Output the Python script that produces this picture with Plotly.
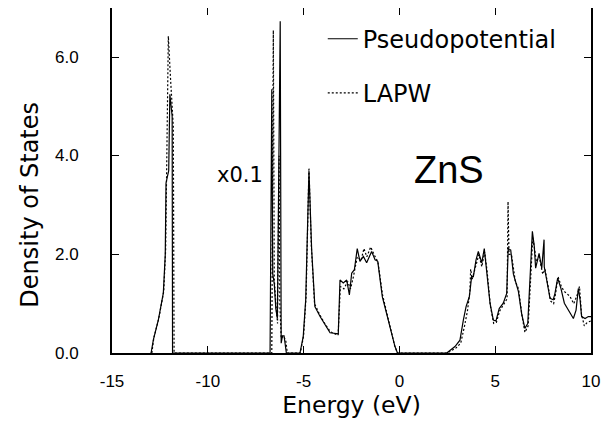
import plotly.graph_objects as go

# ---- data ----
pp_energy = [-13.0, -12.96, -12.84, -12.58, -12.32, -12.22, -12.18, -12.10, -12.04, -11.98, -11.90, -11.86, -11.84,
             -6.75, -6.66, -6.61, -6.53, -6.45, -6.37, -6.30, -6.22, -6.17, -6.10, -6.02, -5.95, -5.90,
             -5.19, -5.02, -4.89, -4.79, -4.72, -4.58, -4.41, -4.14, -3.88, -3.62, -3.19, -3.10, -2.93, -2.75,
             -2.61, -2.49, -2.35, -2.20, -2.06, -1.88, -1.71, -1.45, -1.27, -1.13, -0.89, -0.58, -0.23, -0.10,
             2.47, 2.90, 3.16, 3.34, 3.48, 3.65, 3.77, 3.86, 4.00, 4.12, 4.30, 4.43, 4.56, 4.73, 4.90, 5.04,
             5.21, 5.42, 5.60, 5.68, 5.81, 5.95, 6.10, 6.21, 6.38, 6.55, 6.70, 6.82, 6.94, 7.04, 7.11, 7.29,
             7.43, 7.55, 7.56, 7.69, 7.86, 8.03, 8.12, 8.26, 8.43, 8.61, 8.85, 9.08, 9.22, 9.34, 9.43, 9.51,
             9.69, 9.86, 10.0]
pp_dos = [0, 0, 0.27, 0.67, 1.22, 2.0, 3.45, 3.6, 3.7, 5.25, 5.0, 4.8, 0,
          0, 5.35, 1.6, 1.4, 0.9, 0.7, 4.3, 6.73, 0.2, 0.35, 0.35, 0.15, 0,
          0, 0.33, 1.08, 2.77, 3.69, 2.1, 0.94, 0.74, 0.57, 0.41, 0.39, 1.48, 1.42, 1.48,
          1.18, 1.62, 1.69, 2.12, 1.86, 1.96, 1.83, 2.06, 1.89, 1.86, 1.14, 0.67, 0.13, 0,
          0, 0.13, 0.26, 0.67, 0.94, 1.14, 1.55, 1.55, 1.89, 2.06, 1.83, 2.12, 1.69, 1.01, 0.67, 0.65,
          0.9, 1.01, 1.21, 2.12, 2.09, 1.6, 1.4, 1.25, 0.8, 0.5, 0.6, 1.55, 2.47, 2.16, 1.72, 2.02,
          1.72, 2.3, 1.75, 1.48, 1.11, 1.08, 1.21, 1.52, 1.31, 1.01, 0.84, 0.7, 0.87, 1.31, 1.08, 0.74,
          0.7, 0.74, 0.74]

lapw_energy = [-12.92, -12.82, -12.56, -12.30, -12.20, -12.16, -12.06, -11.95, -11.80, -11.76,
               -6.66, -6.58, -6.53, -6.45, -6.36, -6.28, -6.24, -6.17, -6.05, -5.93, -5.85,
               -5.17, -5.00, -4.87, -4.78, -4.72, -4.60, -4.43, -4.16, -3.90, -3.60, -3.20, -3.08, -2.90,
               -2.70, -2.55, -2.40, -2.20, -2.00, -1.85, -1.70, -1.50, -1.30, -1.12, -0.88, -0.58, -0.25, -0.10,
               2.50, 2.95, 3.20, 3.40, 3.55, 3.68, 3.72, 3.80, 4.00, 4.15, 4.30, 4.45, 4.58, 4.75, 4.92, 5.06,
               5.23, 5.45, 5.62, 5.67, 5.72, 5.85, 6.05, 6.22, 6.40, 6.55, 6.72, 6.85, 6.96, 7.06, 7.15, 7.30,
               7.48, 7.60, 7.72, 7.90, 8.05, 8.15, 8.28, 8.45, 8.60, 8.90, 9.10, 9.30, 9.40, 9.50, 9.65, 9.80, 10.0]
lapw_dos = [0, 0.3, 0.7, 1.25, 2.1, 3.5, 6.43, 5.6, 4.6, 0,
            0, 6.55, 1.5, 1.0, 0.6, 4.0, 1.0, 0.3, 0.35, 0.25, 0,
            0, 0.35, 1.15, 2.9, 3.76, 2.2, 1.0, 0.78, 0.6, 0.43, 0.36, 1.35, 1.3,
            1.45, 1.3, 1.55, 1.95, 1.88, 2.12, 1.95, 2.15, 1.98, 1.85, 1.18, 0.7, 0.15, 0,
            0, 0.1, 0.2, 0.55, 0.85, 1.25, 1.7, 1.5, 1.8, 2.0, 1.75, 2.05, 1.65, 0.95, 0.6, 0.62,
            0.85, 0.98, 1.1, 3.07, 2.0, 2.0, 1.45, 1.3, 0.75, 0.42, 0.55, 1.5, 2.35, 2.1, 1.85, 1.95,
            1.6, 1.7, 1.4, 1.05, 1.0, 1.2, 1.55, 1.35, 1.25, 1.15, 1.0, 1.2, 1.35, 0.8, 0.55, 0.62, 0.65]

x_tickvals = [-15, -10, -5, 0, 5, 10]
x_ticktext = ["-15", "-10", "-5", "0", "5", "10"]
y_tickvals = [0, 2, 4, 6]
y_ticktext = ["0.0", "2.0", "4.0", "6.0"]

TFONT = "Liberation Sans"
WFONT = "DejaVu Sans"

fig = go.Figure()
fig.add_trace(go.Scatter(x=pp_energy, y=pp_dos, mode="lines", name="Pseudopotential",
                         legendgroup="a", line=dict(color="black", width=1.2)))
fig.add_trace(go.Scatter(x=lapw_energy, y=lapw_dos, mode="lines", name="LAPW",
                         legendgroup="b", line=dict(color="black", width=1.2, dash="2px,2px")))

fig.add_annotation(x=-8.3, y=3.62, text="x0.1", showarrow=False,
                   font=dict(family=WFONT, size=21, color="black"))
fig.add_annotation(x=2.6, y=3.72, text="ZnS", showarrow=False,
                   font=dict(family=TFONT, size=38, color="black"))

# y tick labels placed further from the axis than plotly's inside-tick default
for v, t in zip(y_tickvals, y_ticktext):
    fig.add_annotation(x=0, xref="paper", y=v, yref="y", text=t, showarrow=False,
                       xanchor="right", yanchor="middle", xshift=-31,
                       font=dict(family=TFONT, size=17, color="black"))

# y axis title
fig.add_annotation(x=0, xref="paper", y=0.43, yref="paper", text="Density of States",
                   showarrow=False, textangle=-90, xanchor="center", yanchor="middle",
                   xshift=-82, font=dict(family=WFONT, size=24, color="black"))

axis_common = dict(showline=True, linecolor="black", linewidth=1.5, mirror="ticks",
                   ticks="inside", ticklen=7, tickcolor="black", tickwidth=1.2,
                   showgrid=False, zeroline=False, automargin=False,
                   tickfont=dict(family=TFONT, size=17, color="black"))

fig.update_xaxes(range=[-15, 10], tickvals=x_tickvals, ticktext=x_ticktext,
                 ticklabelstandoff=12,
                 title=dict(text="Energy (eV)", font=dict(family=WFONT, size=23.5, color="black"), standoff=4),
                 **axis_common)
fig.update_yaxes(range=[0, 7.0], tickvals=y_tickvals, showticklabels=False,
                 **axis_common)

# page body has an 8px margin: shift figure geometry to compensate
fig.update_layout(
    width=603, height=419,
    margin=dict(l=104, r=20, t=0, b=74),
    paper_bgcolor="white", plot_bgcolor="white",
    showlegend=True,
    legend=dict(x=0.44, y=0.975, xanchor="left", yanchor="top",
                font=dict(family=WFONT, size=24, color="black"),
                bgcolor="rgba(0,0,0,0)", traceorder="grouped", tracegroupgap=20,
                itemwidth=30),
)

fig.write_html("out.html")
